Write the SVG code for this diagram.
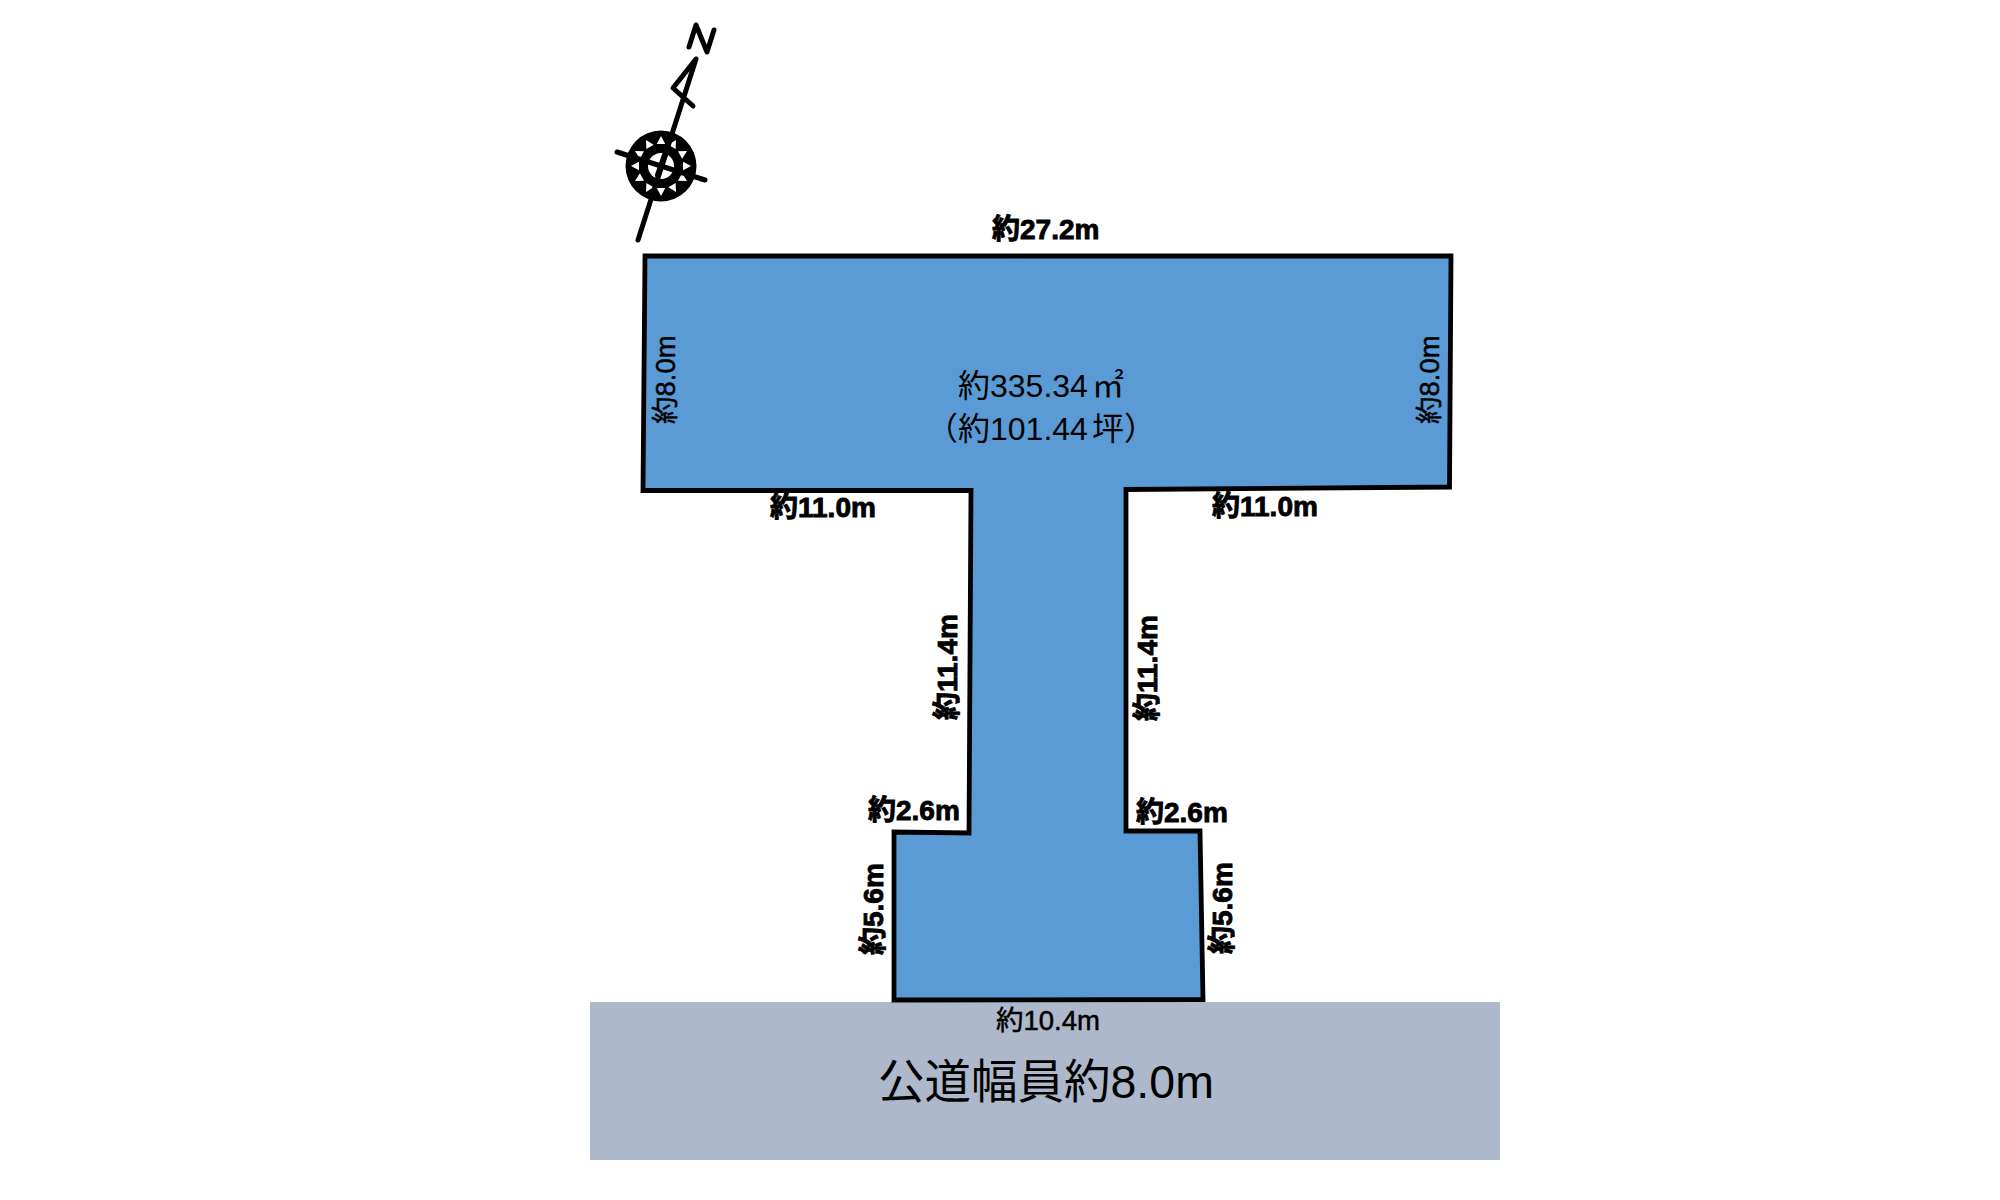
<svg xmlns="http://www.w3.org/2000/svg" width="2000" height="1200" viewBox="0 0 2000 1200">
<style>
text{font-family:"Liberation Sans","Noto Sans CJK JP",sans-serif;fill:#000}
.b{font-size:28px;font-weight:700;stroke:#000;stroke-width:.9px}
.m{font-size:27.5px;font-weight:400;stroke:#000;stroke-width:.5px}
.a{font-size:32px}
.r{font-size:46.5px}
.ink{fill:none;stroke:#000;stroke-width:5px;stroke-linecap:round;stroke-linejoin:round}
</style>
<defs><polygon id="t" points="0,-30 -4.2,-22 4.2,-22" fill="#fff"/></defs>
<rect width="2000" height="1200" fill="#fff"/>
<g id="road"><rect x="590" y="1002" width="910" height="158" fill="#ADB9CA"/>
<text class="r" x="878" y="1098">公道幅員約8.0m</text></g>
<g id="lot"><polygon points="645,256 1451,256 1449.5,487 1126,489.5 1126,831 1200,831 1203,999.5 894,1000 894,832 969,833 971,490.5 643,490.5" fill="#5B9BD5" stroke="#000" stroke-width="4.8"/>
<text class="a" x="958" y="397">約335.34<tspan dx="4">㎡</tspan></text>
<text class="a" x="926" y="440">（約101.44<tspan dx="4">坪</tspan>）</text></g>
<g id="labels">
<text class="b" x="992" y="239">約27.2m</text>
<text class="b" x="770" y="517">約11.0m</text>
<text class="b" x="1212" y="516">約11.0m</text>
<text class="b" x="868" y="820">約2.6m</text>
<text class="b" x="1136" y="822">約2.6m</text>
<text class="b" transform="translate(957,720) rotate(-90)">約11.4m</text>
<text class="b" transform="translate(1157,721) rotate(-90)">約11.4m</text>
<text class="b" transform="translate(883,955) rotate(-90)">約5.6m</text>
<text class="b" transform="translate(1232,954) rotate(-90)">約5.6m</text>
<text class="m" transform="translate(675,424) rotate(-90)">約8.0m</text>
<text class="m" transform="translate(1439,424) rotate(-90)">約8.0m</text>
<text class="m" x="996" y="1030">約10.4m</text>
</g>
<g id="compass">
<circle cx="661" cy="166" r="35.5" fill="#000"/>
<g transform="translate(661,166)">
<use href="#t"/><use href="#t" transform="rotate(30)"/><use href="#t" transform="rotate(60)"/><use href="#t" transform="rotate(90)"/><use href="#t" transform="rotate(120)"/><use href="#t" transform="rotate(150)"/><use href="#t" transform="rotate(180)"/><use href="#t" transform="rotate(210)"/><use href="#t" transform="rotate(240)"/><use href="#t" transform="rotate(270)"/><use href="#t" transform="rotate(300)"/><use href="#t" transform="rotate(330)"/>
<circle r="13" fill="#fff"/>
</g>
<path class="ink" d="M638,240 L696,59 L673,88 L693,106"/>
<path class="ink" d="M617,152 L705,180"/>
<path class="ink" d="M689,47 L696,25 L707,52 L714,30"/>
<path class="ink" d="M658,175 L665,155" style="stroke-width:6px"/>
</g>
</svg>
